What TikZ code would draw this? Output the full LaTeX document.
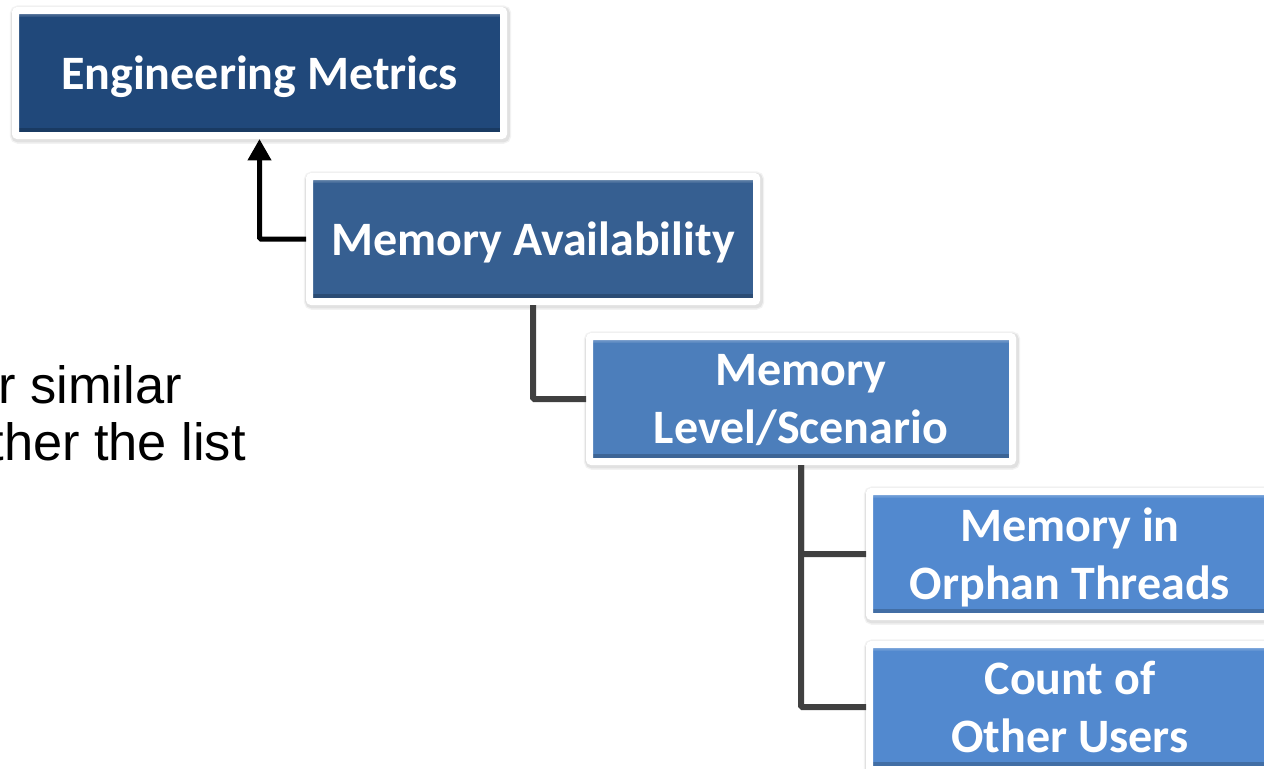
\documentclass[tikz,border=0pt]{standalone}
\usepackage{fontspec}
\usetikzlibrary{arrows.meta}
\newfontfamily\metricfont{Carlito}
\newfontfamily\notefont{Liberation Sans}
\definecolor{levelA}{RGB}{32,72,122}
\definecolor{levelB}{RGB}{54,95,145}
\definecolor{levelC}{RGB}{76,126,187}
\definecolor{levelD}{RGB}{82,137,207}
\definecolor{linkgray}{RGB}{64,64,64}
\tikzset{
	halo/.style={
		preaction={draw=black, draw opacity=0.05, line width=10pt, transform canvas={xshift=0.8pt,yshift=-1.2pt}},
		preaction={draw=black, draw opacity=0.07, line width=8pt, transform canvas={xshift=0.8pt,yshift=-1.2pt}}},
	metric/.style={halo, draw=white, line width=5.25pt, fill=#1, rounded corners=1.5pt,
		text=white, align=center, inner sep=0pt, minimum height=93.75pt, text depth=0pt,
		font={\metricfont\bfseries\fontsize{36}{43.5}\selectfont},
		path picture={
			\fill[#1!80!black] ([yshift=2.6pt]path picture bounding box.south west) rectangle ([yshift=5.6pt]path picture bounding box.south east);
			\fill[#1!85!white] ([yshift=-2.6pt]path picture bounding box.north west) rectangle ([yshift=-4.6pt]path picture bounding box.north east);
		}},
	link/.style={draw=linkgray, line width=4.5pt, rounded corners=1pt},
	note/.style={font={\notefont\fontsize{39.3}{43}\selectfont}, inner sep=0pt}
}
\begin{document}
\begin{tikzpicture}[x=0.75pt,y=-0.75pt]
	\useasboundingbox (0,0) rectangle (1264,768);
	\clip (0,0) rectangle (1264,768);
	
	% Text on the left, cut by the frame
	\node[note, anchor=base east] (line1) at (182,403) {r similar};
	\node[note, anchor=base east] (line2) at (246,460) {ther the list};
	
	% Metric boxes
	\node[metric=levelA, minimum width=366pt] (eng) at (259.5,73) {Engineering Metrics};
	\node[metric=levelB, minimum width=335.25pt] (avail) at (533,239) {Memory Availability};
	\node[metric=levelC, minimum width=317.25pt] (level) at (801,399) {Memory\\Level/Scenario};
	\node[metric=levelD, minimum width=300.75pt] (orphan) at (1070,554) {Memory in\\Orphan Threads};
	\node[metric=levelD, minimum width=300.75pt] (users) at (1070,707) {Count of\\Other Users};
	
	% Connectors
	\draw[line width=3.75pt, rounded corners=1pt, -{Triangle[width=17pt,length=16pt]}] (avail.west) -| (eng.south);
	\draw[link] (avail.south) |- (level.west);
	\draw[link] (level.south) |- (orphan.west);
	\draw[link] (level.south) |- (users.west);
\end{tikzpicture}
\end{document}
